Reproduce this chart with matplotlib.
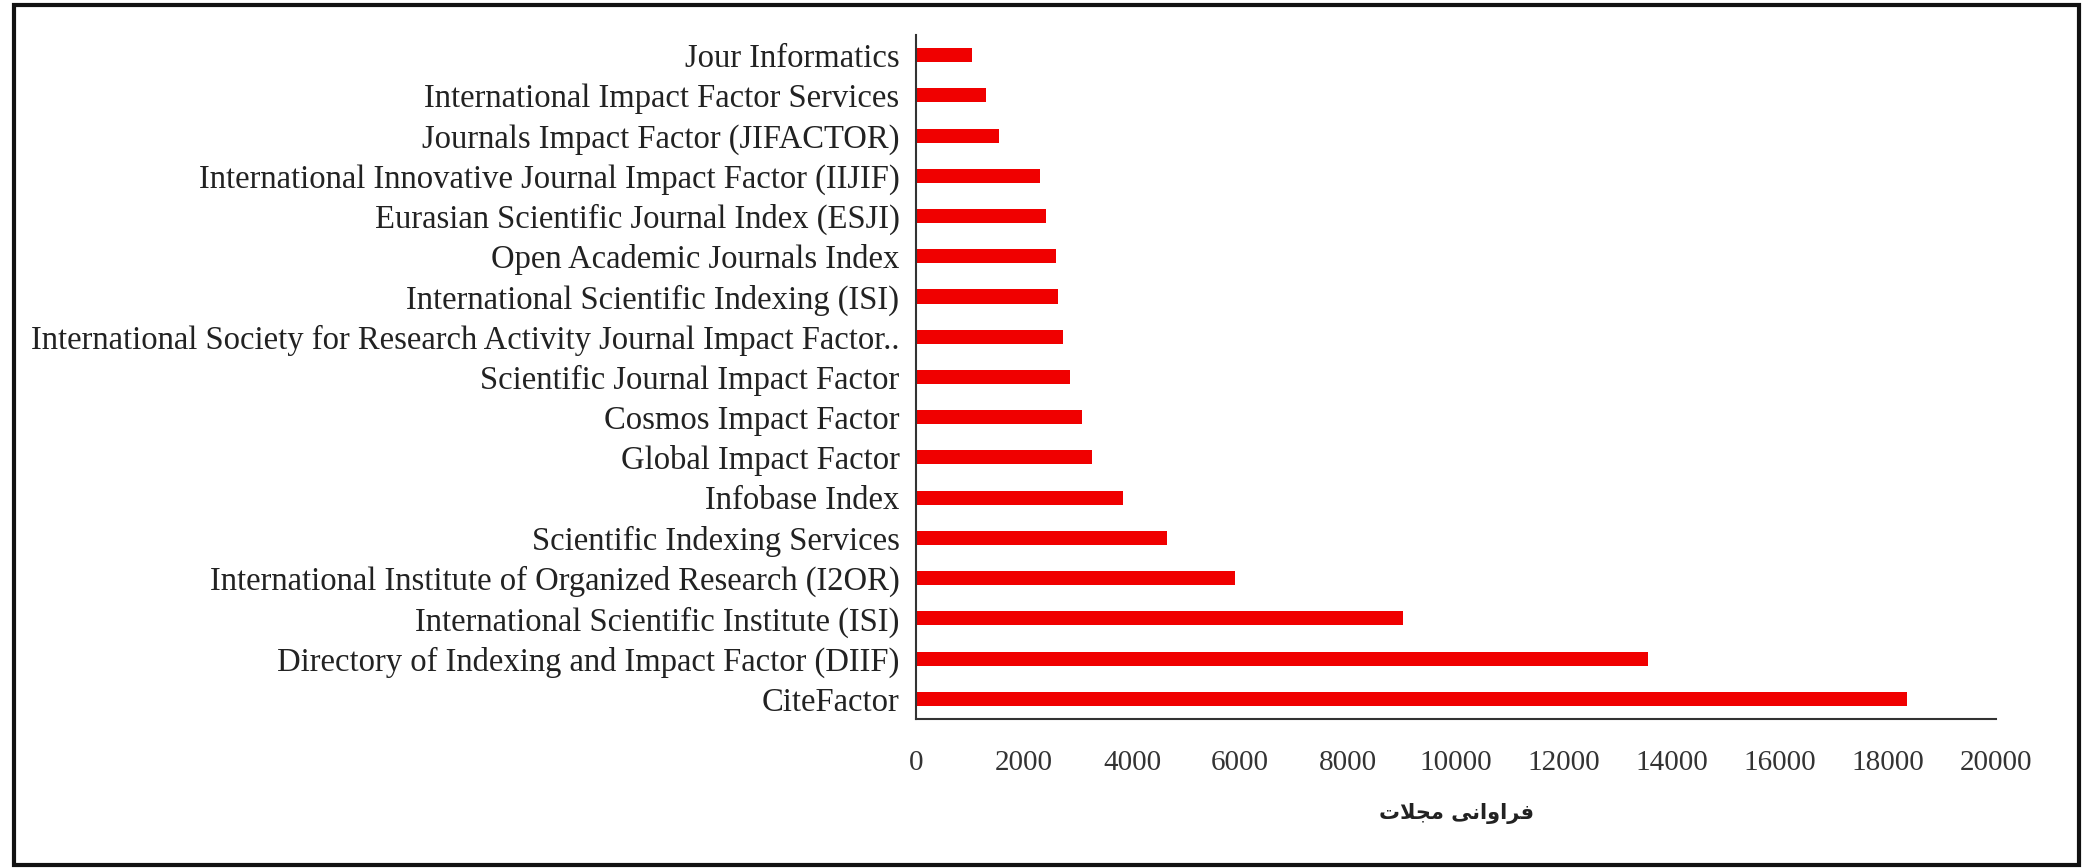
import matplotlib.pyplot as plt
from matplotlib.patches import Rectangle

# indexing services, bottom to top
services = [
    "CiteFactor",
    "Directory of Indexing and Impact Factor (DIIF)",
    "International Scientific Institute (ISI)",
    "International Institute of Organized Research (I2OR)",
    "Scientific Indexing Services",
    "Infobase Index",
    "Global Impact Factor",
    "Cosmos Impact Factor",
    "Scientific Journal Impact Factor",
    "International Society for Research Activity Journal Impact Factor..",
    "International Scientific Indexing (ISI)",
    "Open Academic Journals Index",
    "Eurasian Scientific Journal Index (ESJI)",
    "International Innovative Journal Impact Factor (IIJIF)",
    "Journals Impact Factor (JIFACTOR)",
    "International Impact Factor Services",
    "Jour Informatics",
]
journals = [18350, 13550, 9020, 5900, 4650, 3830, 3260, 3070, 2850,
            2720, 2630, 2590, 2400, 2290, 1540, 1300, 1040]
xticks = list(range(0, 20001, 2000))

# "فراوانی مجلات" written in presentation forms, visual order
xlabel = "\uFE95\uFEFC\uFEA0\uFEE3 \uFEF0\uFEE7\uFE8D\uFEED\uFE8D\uFEAE\uFED3"

fig = plt.figure(figsize=(20.93, 8.68), dpi=100)
ax = fig.add_axes([0.4377, 0.1717, 0.5160, 0.7880])

ax.barh(range(len(services)), journals, height=0.35, color="#f00000")
ax.set_xlim(0, 20000)
ax.set_ylim(-0.5, len(services) - 0.5)
ax.set_yticks(range(len(services)))
ax.set_yticklabels(services, family="Liberation Serif", fontsize=23.5, color="#222222")
ax.set_xticks(xticks)
ax.set_xticklabels([str(t) for t in xticks], family="Liberation Serif", fontsize=21,
                   color="#333333")
ax.tick_params(axis="y", length=0, pad=12)
ax.tick_params(axis="x", length=0, pad=22)

for side in ["top", "right"]:
    ax.spines[side].set_visible(False)
for side in ["left", "bottom"]:
    ax.spines[side].set_color("#333333")
    ax.spines[side].set_linewidth(1.5)

ax.set_xlabel(xlabel, family=["DejaVu Sans"], fontsize=15, fontweight="bold",
              color="#222222", labelpad=20)

# frame round the whole picture
fig.patches.append(Rectangle((0.0065, 0.004), 0.987, 0.99, transform=fig.transFigure,
                             fill=False, edgecolor="#111111", linewidth=3))

fig.savefig("out.png", dpi=100)
